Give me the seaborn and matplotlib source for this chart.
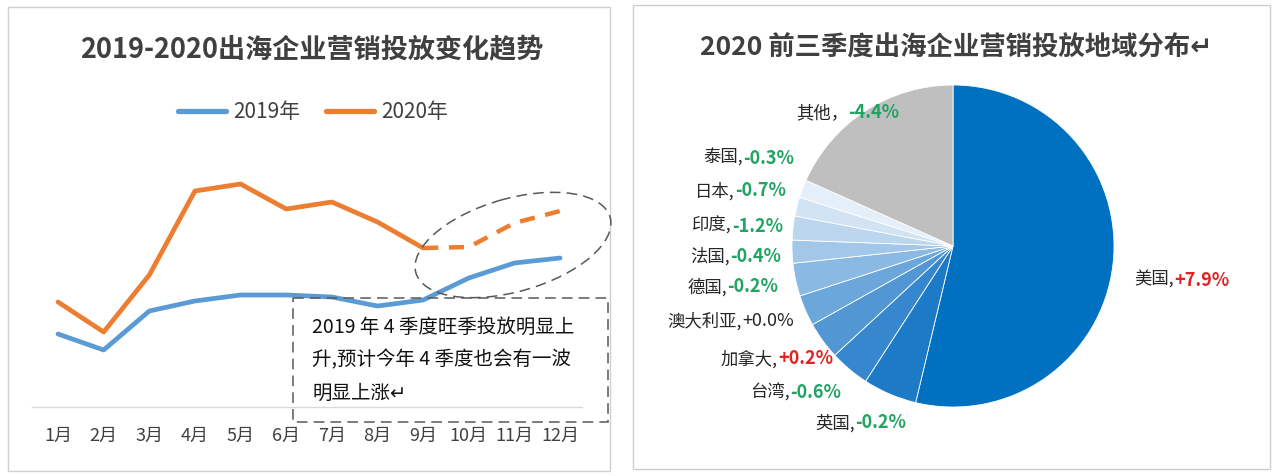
import matplotlib
matplotlib.use('Agg')
import numpy as np
import pandas as pd
import seaborn as sns
import matplotlib.pyplot as plt
from matplotlib.patches import Ellipse, Rectangle

# ---------------- data ----------------
months = ['1月', '2月', '3月', '4月', '5月', '6月', '7月', '8月', '9月', '10月', '11月', '12月']
spend_2019 = [73, 57, 96, 106, 112, 112, 110, 101, 107, 129, 144, 149]
spend_2020 = [105, 75, 132, 216, 223, 198, 205, 185, 159]
forecast_months = ['9月', '10月', '11月', '12月']
forecast_2020 = [159, 160, 184, 196]

regions = ['美国', '英国', '台湾', '加拿大', '澳大利亚', '德国', '法国', '印度', '日本', '泰国', '其他']
shares = [53.7, 5.4, 4.0, 3.75, 3.1, 3.3, 2.3, 2.4, 1.9, 1.8, 18.3]
changes = ['+7.9%', '-0.2%', '-0.6%', '+0.2%', '+0.0%', '-0.2%', '-0.4%', '-1.2%', '-0.7%', '-0.3%', '-4.4%']

title_left = '2019-2020出海企业营销投放变化趋势'
title_right = '2020 前三季度出海企业营销投放地域分布↵'
note_lines = ['2019 年 4 季度旺季投放明显上', '升,预计今年 4 季度也会有一波', '明显上涨↵']

# ---------------- style ----------------
sns.set_theme(style='white')
plt.rcParams['font.family'] = ['Noto Sans CJK SC', 'DejaVu Sans']
plt.rcParams['axes.unicode_minus'] = False

W, H = 1280, 476
fig = plt.figure(figsize=(W / 100, H / 100), dpi=100)
fig.patch.set_facecolor('white')

def fx(px):
    return px / W

def fy(py):
    return 1 - py / H

TXT = '#404040'
BLUE = '#5B9BD5'
ORANGE = '#ED7D31'

# ---------------- left: line chart ----------------
ax_l, ax_r_px, ax_b, ax_t = 32, 582, 407, 140
ax = fig.add_axes([fx(ax_l), fy(ax_b), fx(ax_r_px - ax_l), (ax_b - ax_t) / H])
ax.set_facecolor('none')

idx_all = list(range(len(months)))
df_hist = pd.DataFrame({
    'idx': idx_all + idx_all[:len(spend_2020)],
    'value': spend_2019 + spend_2020,
    'series': ['2019年'] * len(spend_2019) + ['2020年'] * len(spend_2020),
})
sns.lineplot(data=df_hist, x='idx', y='value', hue='series',
             palette={'2019年': BLUE, '2020年': ORANGE}, linewidth=3.4,
             sort=False, ax=ax)
df_fc = pd.DataFrame({'idx': [months.index(m) for m in forecast_months], 'value': forecast_2020})
sns.lineplot(data=df_fc, x='idx', y='value', color=ORANGE, linewidth=3.2,
             linestyle=(0, (3.4, 2.4)), sort=False, legend=False, ax=ax)

ax.set_xlim(-0.57, 11.48)
ax.set_ylim(0, ax_b - ax_t)
ax.set_xticks(idx_all)
ax.set_xticklabels(months, fontsize=13, color=TXT)
ax.tick_params(axis='x', length=0, pad=14)
ax.set_yticks([])
ax.set_xlabel('')
ax.set_ylabel('')
for s in ['left', 'right', 'top']:
    ax.spines[s].set_visible(False)
ax.spines['bottom'].set_color('#D9D9D9')
ax.spines['bottom'].set_linewidth(1)

handles, labels = ax.get_legend_handles_labels()
if ax.get_legend() is not None:
    ax.get_legend().remove()
leg = fig.legend(handles, labels, loc='center', bbox_to_anchor=(fx(313), fy(112)),
                 ncol=2, frameon=False, fontsize=15, handlelength=2.3,
                 handletextpad=0.35, columnspacing=1.2)
for t in leg.get_texts():
    t.set_color(TXT)
for ln in leg.get_lines():
    ln.set_linewidth(3.8)

fig.text(fx(312), fy(50), title_left, ha='center', va='center', fontsize=19.5,
         fontweight='bold', color=TXT)

# ---------------- right: pie ----------------
cx, cy, R = 953, 246, 161
pl, pr, pt, pb = 640, 1268, 62, 462
axp = fig.add_axes([fx(pl), fy(pb), fx(pr - pl), (pb - pt) / H])
pie_colors = ['#0070C0', '#1C7AC6', '#3687CD', '#5296D4', '#6CA7DC', '#8ABAE4',
              '#A2C7E9', '#BCD6EE', '#D2E3F4', '#E5EFF9', '#BFBFBF']
axp.pie(shares, colors=pie_colors, startangle=90, counterclock=False,
        wedgeprops=dict(edgecolor='white', linewidth=0.6))
axp.set_aspect('auto')
axp.set_xlim((pl - cx) / R, (pr - cx) / R)
axp.set_ylim((cy - pb) / R, (cy - pt) / R)
axp.axis('off')

# label layout (pixel anchors where name ends and change begins)
label_px = {
    '美国': (1174, 280), '英国': (855, 423), '台湾': (790, 393), '加拿大': (778, 359),
    '澳大利亚': (742, 321), '德国': (727, 287), '法国': (730, 256), '印度': (732, 226),
    '日本': (735, 191), '泰国': (743, 158), '其他': (848, 113),
}
GREEN = '#1FA463'
RED = '#E02424'
for name, ch in zip(regions, changes):
    px, py = label_px[name]
    x = (px - cx) / R
    y = (cy - py) / R
    sep = '，' if name == '其他' else ','
    axp.text(x, y, name + sep, ha='right', va='center', fontsize=12.5, color='#262626')
    if ch.startswith('-'):
        c = GREEN
    elif ch == '+0.0%':
        c = '#262626'
    else:
        c = RED
    axp.text(x, y, ch, ha='left', va='center', fontsize=13, color=c,
             fontweight='bold' if c != '#262626' else 'normal')

fig.text(fx(956), fy(48), title_right, ha='center', va='center', fontsize=19,
         fontweight='bold', color=TXT)

# ---------------- overlay decorations ----------------
ov = fig.add_axes([0, 0, 1, 1])
ov.set_xlim(0, W)
ov.set_ylim(H, 0)
ov.axis('off')
ov.patch.set_alpha(0)
ov.add_patch(Rectangle((8, 7), 602, 464, fill=False, edgecolor='#D0D0D0', linewidth=1))
ov.add_patch(Rectangle((633, 5), 637, 464, fill=False, edgecolor='#D0D0D0', linewidth=1))
ov.add_patch(Ellipse((513, 245), 202, 93, angle=-16, fill=False, edgecolor='#595959',
                     linewidth=1.1, linestyle=(0, (7, 4))))
ov.add_patch(Rectangle((293, 298), 315, 124, fill=False, edgecolor='#595959',
                       linewidth=1.1, linestyle=(0, (7, 4))))
for i, line in enumerate(note_lines):
    ov.text(312, 327 + 33 * i, line, ha='left', va='center', fontsize=14, color='#111111')

fig.savefig('out.png', dpi=100, facecolor='white')
